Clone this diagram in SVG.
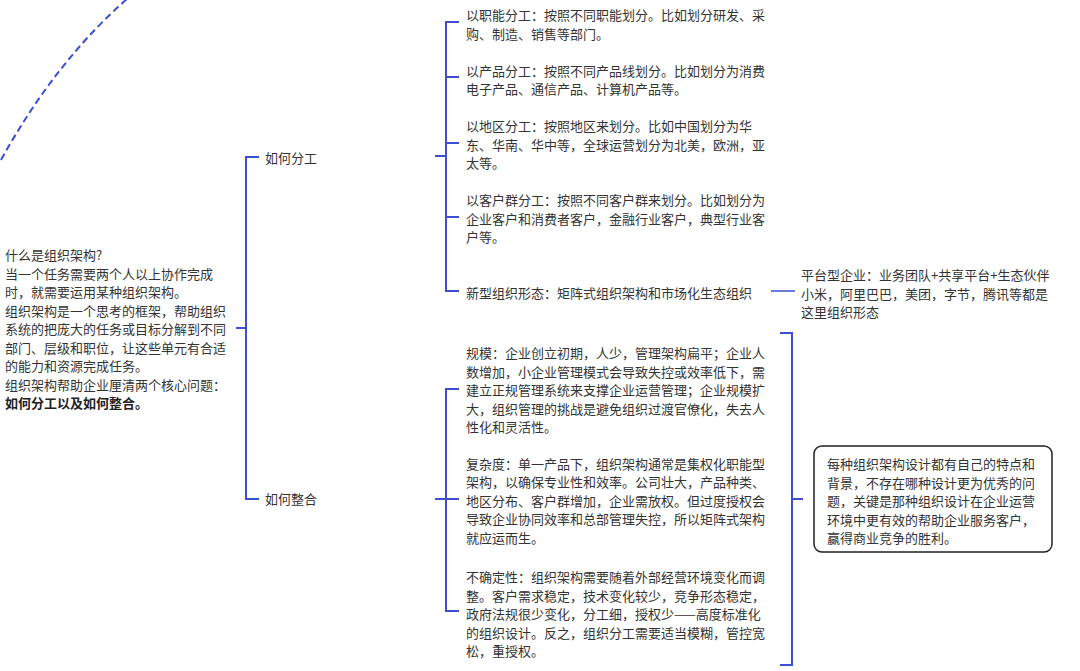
<svg xmlns="http://www.w3.org/2000/svg" width="1080" height="671" viewBox="0 0 1080 671">
<style>
.t{font-family:"Noto Sans CJK SC","Noto Sans",sans-serif;font-size:13px;fill:#333}
.b{font-weight:bold;fill:#222}
.c{fill:none;stroke:#3b4fd0;stroke-width:2}
.thin{stroke-width:1.5}
</style>
<rect width="1080" height="671" fill="#fff"/>
<g id="connectors">
<path class="c" d="M1,160 Q55,62 128,-2" stroke-dasharray="7 4"/>
<path class="c" d="M236,328 H246 M259,157 H246 V499 H259"/>
<path class="c" d="M435,156 H446 M459,22 H446 V291 H459 M446,77 H459 M446,143 H459 M446,217 H459"/>
<path class="c thin" d="M771,291 H795"/>
<path class="c" d="M435,499 H446 M459,389 H446 V611 H459 M446,499 H459"/>
<path class="c" d="M780,333 H792 V665 H780 M792,499 H803"/>
</g>
<g id="root">
<text class="t"><tspan x="5" y="260">什么是组织架构?</tspan><tspan x="5" y="278.5">当一个任务需要两个人以上协作完成</tspan><tspan x="5" y="297">时，就需要运用某种组织架构。</tspan><tspan x="5" y="315.5">组织架构是一个思考的框架，帮助组织</tspan><tspan x="5" y="334">系统的把庞大的任务或目标分解到不同</tspan><tspan x="5" y="352.5">部门、层级和职位，让这些单元有合适</tspan><tspan x="5" y="371">的能力和资源完成任务。</tspan><tspan x="5" y="389.5">组织架构帮助企业厘清两个核心问题：</tspan><tspan x="5" y="408" class="b">如何分工以及如何整合。</tspan></text>
</g>
<g id="n-fengong"><text class="t" x="265" y="163">如何分工</text></g>
<g id="n-zhenghe"><text class="t" x="265" y="504">如何整合</text></g>
<g id="n-zhineng"><text class="t"><tspan x="466" y="20">以职能分工：按照不同职能划分。比如划分研发、采</tspan><tspan x="466" y="38.5">购、制造、销售等部门。</tspan></text></g>
<g id="n-chanpin"><text class="t"><tspan x="466" y="75.5">以产品分工：按照不同产品线划分。比如划分为消费</tspan><tspan x="466" y="94">电子产品、通信产品、计算机产品等。</tspan></text></g>
<g id="n-diqu"><text class="t"><tspan x="466" y="131">以地区分工：按照地区来划分。比如中国划分为华</tspan><tspan x="466" y="149.5">东、华南、华中等，全球运营划分为北美，欧洲，亚</tspan><tspan x="466" y="168">太等。</tspan></text></g>
<g id="n-kehu"><text class="t"><tspan x="466" y="205">以客户群分工：按照不同客户群来划分。比如划分为</tspan><tspan x="466" y="223.5">企业客户和消费者客户，金融行业客户，典型行业客</tspan><tspan x="466" y="242">户等。</tspan></text></g>
<g id="n-xinxing"><text class="t" x="466" y="297.5">新型组织形态：矩阵式组织架构和市场化生态组织</text></g>
<g id="n-pingtai"><text class="t"><tspan x="801" y="280">平台型企业：业务团队+共享平台+生态伙伴</tspan><tspan x="801" y="298.5">小米，阿里巴巴，美团，字节，腾讯等都是</tspan><tspan x="801" y="317">这里组织形态</tspan></text></g>
<g id="n-guimo"><text class="t"><tspan x="466" y="358">规模：企业创立初期，人少，管理架构扁平；企业人</tspan><tspan x="466" y="376.5">数增加，小企业管理模式会导致失控或效率低下，需</tspan><tspan x="466" y="395">建立正规管理系统来支撑企业运营管理；企业规模扩</tspan><tspan x="466" y="413.5">大，组织管理的挑战是避免组织过渡官僚化，失去人</tspan><tspan x="466" y="432">性化和灵活性。</tspan></text></g>
<g id="n-fuza"><text class="t"><tspan x="466" y="468.5">复杂度：单一产品下，组织架构通常是集权化职能型</tspan><tspan x="466" y="487">架构，以确保专业性和效率。公司壮大，产品种类、</tspan><tspan x="466" y="505.5">地区分布、客户群增加，企业需放权。但过度授权会</tspan><tspan x="466" y="524">导致企业协同效率和总部管理失控，所以矩阵式架构</tspan><tspan x="466" y="542.5">就应运而生。</tspan></text></g>
<g id="n-buqueding"><text class="t"><tspan x="466" y="582">不确定性：组织架构需要随着外部经营环境变化而调</tspan><tspan x="466" y="600.5">整。客户需求稳定，技术变化较少，竞争形态稳定，</tspan><tspan x="466" y="619">政府法规很少变化，分工细，授权少——高度标准化</tspan><tspan x="466" y="637.5">的组织设计。反之，组织分工需要适当模糊，管控宽</tspan><tspan x="466" y="656">松，重授权。</tspan></text></g>
<g id="n-summary">
<rect x="814" y="446" width="238" height="106" rx="8" fill="#fff" stroke="#222" stroke-width="1.5"/>
<text class="t"><tspan x="827" y="469">每种组织架构设计都有自己的特点和</tspan><tspan x="827" y="487.5">背景，不存在哪种设计更为优秀的问</tspan><tspan x="827" y="506">题，关键是那种组织设计在企业运营</tspan><tspan x="827" y="524.5">环境中更有效的帮助企业服务客户，</tspan><tspan x="827" y="543">赢得商业竞争的胜利。</tspan></text>
</g>
</svg>
